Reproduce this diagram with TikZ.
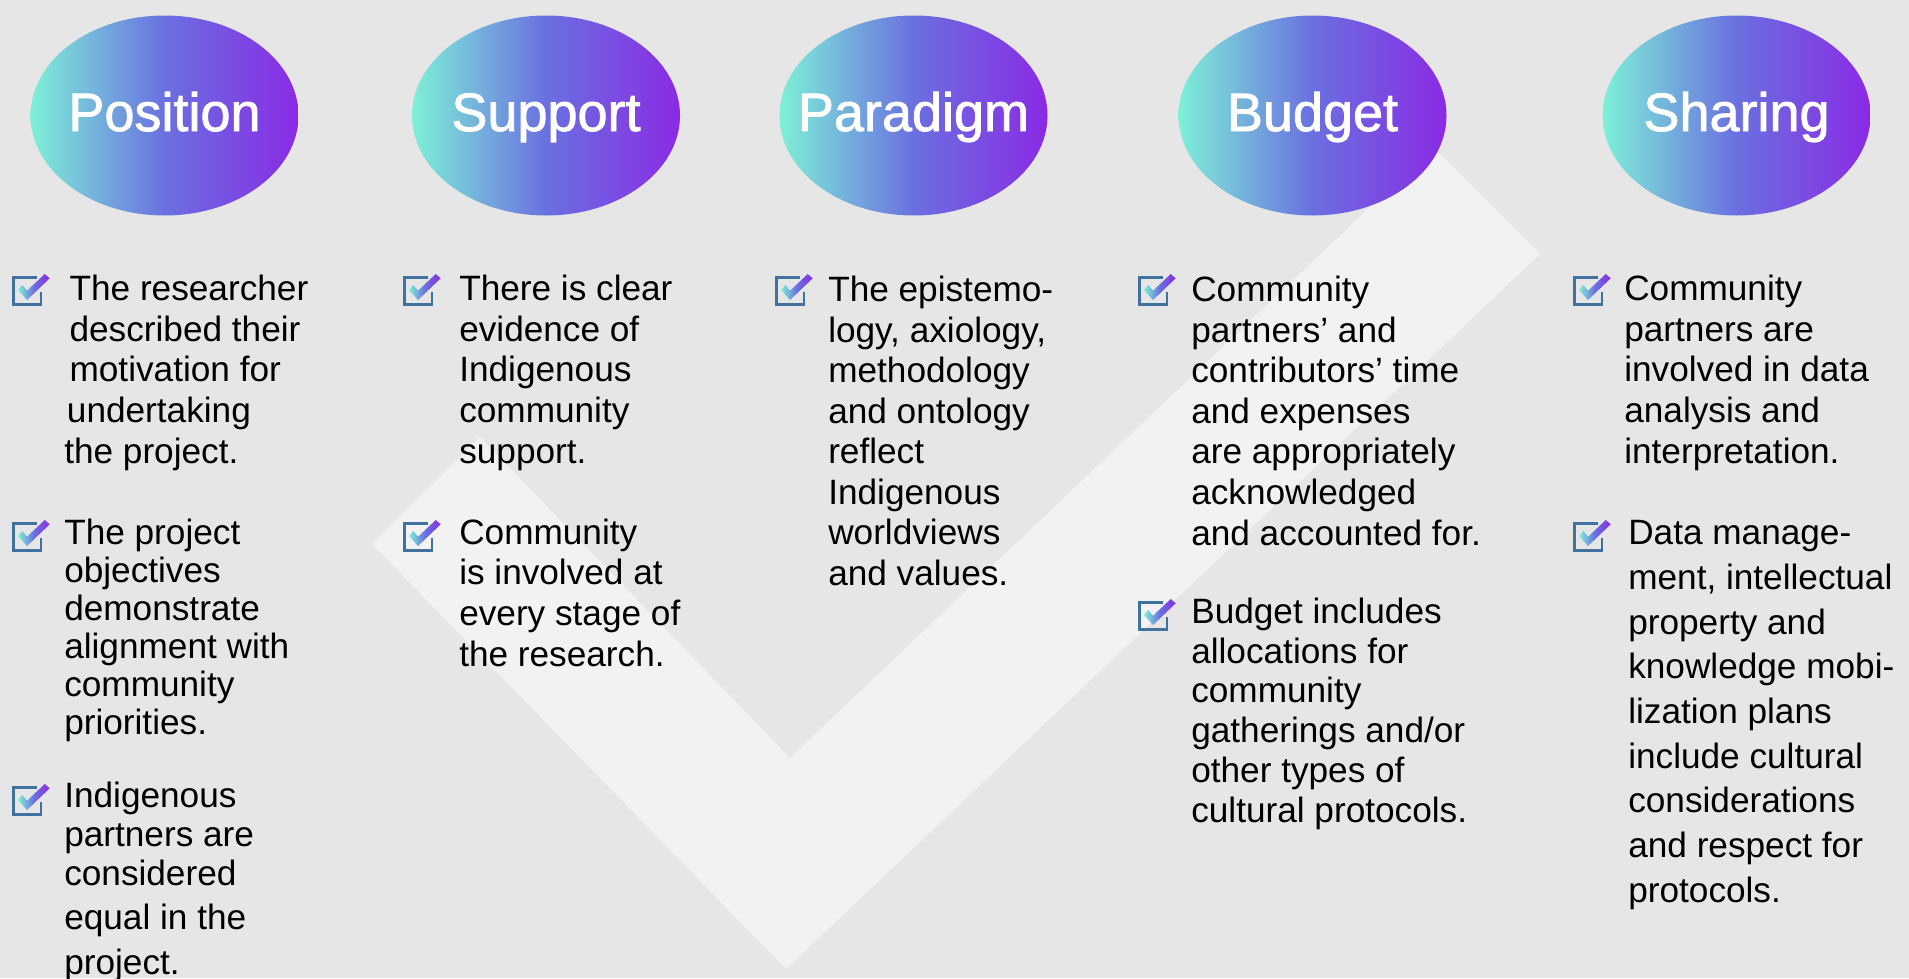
\documentclass[tikz,border=0pt]{standalone}
\usepackage{fontspec}
\setmainfont{Liberation Sans}
\usetikzlibrary{shapes.geometric}
% colour ramp of the ovals and of the ticks
\definecolor{pagegrey}{HTML}{E6E6E6}
\definecolor{chevrongrey}{HTML}{F2F2F2}
\definecolor{boxblue}{HTML}{41729F}
\definecolor{rampa}{HTML}{7EF0D8}
\definecolor{rampb}{HTML}{6A70E0}
\definecolor{rampc}{HTML}{8A2AE4}
\pgfdeclarehorizontalshading{tealviolet}{100bp}{color(0bp)=(rampa);color(25bp)=(rampa);color(50bp)=(rampb);color(75bp)=(rampc);color(100bp)=(rampc)}
\tikzset{
	oval/.style={ellipse,inner sep=0pt,minimum width=201pt,minimum height=150pt,shading=tealviolet},
	title/.style={anchor=base,inner sep=0pt,text=white,font=\fontsize{40.5}{40.5}\selectfont\addfontfeature{FakeBold=1.5}},
	item/.style={anchor=base west,inner sep=0pt,align=left,text=black,font=\fontsize{26.4}{#1}\selectfont},
	item/.default=30.4,
	checkbox/.pic={
		\draw[boxblue,line width=2.1pt] (25,1.5) -- (1.5,1.5) -- (1.5,28.5) -- (29,28.5) -- (29,16);
		\shade[shading=tealviolet] (6,14) -- (15,24) -- (37.7,2.3) -- (32.7,-2) -- (15,14.7) -- (10.3,9) -- cycle;
	}
}
\begin{document}
\begin{tikzpicture}[x=0.75pt,y=-0.75pt]
	\useasboundingbox (0,0) rectangle (1909,978);
	\fill[pagegrey] (0,0) rectangle (1909,978);
	
	% Big tick behind everything
	\fill[chevrongrey] (372,544) -- (480,437) -- (790,758) -- (1433,147) -- (1540,254) -- (786,969) -- cycle;
	
	% Ovals with titles
	\foreach \name/\x/\lab in {position/164.5/Position,support/546/Support,paradigm/913.5/Paradigm,budget/1312.5/Budget,sharing/1736.5/Sharing}
	{
		\node[oval] (\name) at (\x,115.5) {};
		\node[title] (\name title) at (\x,131) {\lab};
	}
	
	% Check boxes
	\foreach \x/\y in {12/276,12/522,12/786,403/276,403/522,775/276,1138/276,1138/601,1573/276,1573/522}
	{
		\pic at (\x,\y) {checkbox};
	}
	
	% First column
	\node[item] (position1) at (64,463) {\hspace*{4pt}The researcher\\\hspace*{4pt}described their\\\hspace*{4pt}motivation for\\\hspace*{2pt}undertaking\\the project.};
	\node[item=28.5] (position2) at (64,734) {The project\\objectives\\demonstrate\\alignment with\\community\\priorities.};
	\node[item=29.5] (position3) at (64,974) {Indigenous\\partners are\\considered\\[3.6pt]equal in the\\[3.6pt]project.};
	
	% Second column
	\node[item] (support1) at (459,463) {There is clear\\evidence of\\Indigenous\\community\\support.};
	\node[item] (support2) at (459,666) {Community\\is involved at\\every stage of\\the research.};
	
	% Third column
	\node[item] (paradigm1) at (828,585.5) {The epistemo-\\logy, axiology,\\methodology\\and ontology\\reflect\\Indigenous\\worldviews\\and values.};
	
	% Fourth column
	\node[item] (budget1) at (1191,545) {Community\\partners’ and\\contributors’ time\\and expenses\\are appropriately\\acknowledged\\and accounted for.};
	\node[item=29.8] (budget2) at (1191,822) {Budget includes\\allocations for\\community\\gatherings and/or\\other types of\\cultural protocols.};
	
	% Fifth column
	\node[item] (sharing1) at (1624,463) {Community\\partners are\\involved in data\\analysis and\\interpretation.};
	\node[item=33.5] (sharing2) at (1628,902) {Data manage-\\ment, intellectual\\property and\\knowledge mobi-\\lization plans\\include cultural\\considerations\\and respect for\\protocols.};
\end{tikzpicture}
\end{document}
